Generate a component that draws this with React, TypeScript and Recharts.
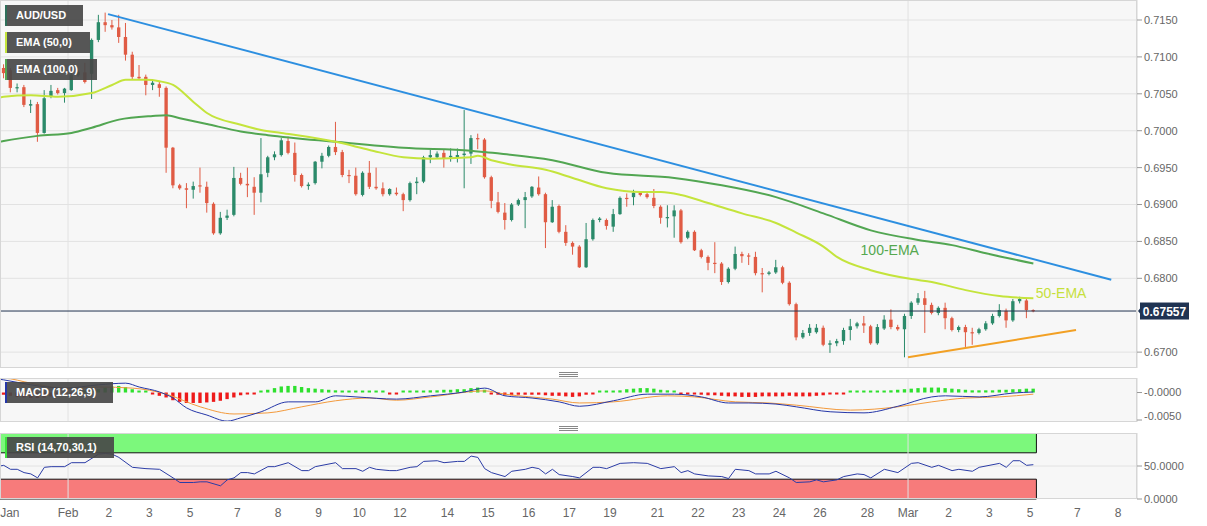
import React from 'react'
import {
  ComposedChart,
  Bar,
  Line,
  XAxis,
  YAxis,
  CartesianGrid,
  ReferenceLine,
  ReferenceArea,
  ReferenceDot,
  Cell,
} from 'recharts'

const FONT = '"Liberation Sans", Arial, Helvetica, sans-serif'
const W = 1207
const PLOT_W = 1137
const X_DOMAIN: [number, number] = [-0.55, 167.3]

// 4h candles, [open, high, low, close]
const candles: number[][] = [
  [0.7085, 0.709, 0.7071, 0.7078], [0.7082, 0.7085, 0.7052, 0.7058], [0.7058, 0.7064, 0.7052, 0.7059],
  [0.7059, 0.7062, 0.7032, 0.7035], [0.7034, 0.7042, 0.7024, 0.7036], [0.7036, 0.7039, 0.6985, 0.6997],
  [0.6997, 0.7055, 0.6996, 0.7044], [0.7047, 0.7062, 0.7044, 0.7054], [0.7055, 0.7058, 0.7049, 0.7051],
  [0.7051, 0.7058, 0.7038, 0.7057], [0.7055, 0.7078, 0.7054, 0.7076], [0.7075, 0.7082, 0.7073, 0.708],
  [0.7079, 0.7092, 0.7064, 0.7066], [0.7077, 0.7125, 0.7043, 0.7123], [0.7123, 0.7157, 0.712, 0.7147],
  [0.7147, 0.716, 0.7134, 0.7143], [0.7143, 0.715, 0.7137, 0.714], [0.714, 0.7157, 0.7119, 0.7127],
  [0.7127, 0.7146, 0.7095, 0.7103], [0.7103, 0.7107, 0.7069, 0.7073], [0.7073, 0.7089, 0.7069, 0.7071],
  [0.7073, 0.7076, 0.7048, 0.7062], [0.7062, 0.7069, 0.7055, 0.7065], [0.7063, 0.7066, 0.7046, 0.7058],
  [0.7058, 0.706, 0.6943, 0.6977], [0.6977, 0.6978, 0.6922, 0.6926], [0.6926, 0.6928, 0.692, 0.6922],
  [0.6922, 0.6929, 0.6895, 0.692], [0.692, 0.6931, 0.6908, 0.6925], [0.6926, 0.695, 0.6916, 0.6925],
  [0.6924, 0.6931, 0.6889, 0.6902], [0.6901, 0.6903, 0.6859, 0.6861], [0.6861, 0.689, 0.6859, 0.6882],
  [0.6882, 0.6893, 0.6879, 0.6885], [0.6886, 0.6951, 0.6884, 0.6936], [0.6936, 0.6943, 0.6926, 0.6928],
  [0.6928, 0.695, 0.691, 0.6926], [0.6924, 0.6937, 0.6886, 0.6916], [0.6916, 0.699, 0.6903, 0.6941],
  [0.6943, 0.6966, 0.6937, 0.6964], [0.6964, 0.6972, 0.696, 0.6968], [0.6967, 0.699, 0.6965, 0.6987],
  [0.6986, 0.6992, 0.6968, 0.697], [0.697, 0.6984, 0.6931, 0.694], [0.694, 0.6942, 0.6923, 0.6925],
  [0.6925, 0.693, 0.692, 0.6927], [0.6929, 0.6959, 0.6927, 0.6958], [0.6958, 0.697, 0.6949, 0.6966],
  [0.6966, 0.698, 0.6964, 0.6978], [0.6978, 0.7012, 0.6967, 0.6971], [0.6971, 0.6974, 0.6937, 0.694],
  [0.694, 0.6947, 0.6929, 0.6939], [0.6939, 0.695, 0.6912, 0.6914], [0.6913, 0.6945, 0.6911, 0.6943],
  [0.6943, 0.6959, 0.6921, 0.6924], [0.6924, 0.695, 0.692, 0.6922], [0.6922, 0.693, 0.6911, 0.6914],
  [0.6914, 0.6922, 0.6912, 0.6921], [0.6916, 0.6923, 0.6912, 0.6914], [0.6914, 0.6916, 0.6891, 0.6906],
  [0.6906, 0.6931, 0.6904, 0.6929], [0.6929, 0.6937, 0.6914, 0.6931], [0.6931, 0.6966, 0.6929, 0.6964],
  [0.6964, 0.6974, 0.6956, 0.6967], [0.6964, 0.6972, 0.6962, 0.6969], [0.697, 0.6975, 0.695, 0.6963],
  [0.6964, 0.6976, 0.6958, 0.6966], [0.6964, 0.6976, 0.6957, 0.6967], [0.6967, 0.7028, 0.6922, 0.6969],
  [0.6969, 0.6994, 0.6955, 0.699], [0.699, 0.6996, 0.6975, 0.6989], [0.6988, 0.699, 0.6935, 0.6937],
  [0.6937, 0.6939, 0.6895, 0.6905], [0.6903, 0.6917, 0.6888, 0.689], [0.6889, 0.6902, 0.6866, 0.6879],
  [0.6879, 0.6902, 0.6877, 0.69], [0.69, 0.6908, 0.6898, 0.6906], [0.6906, 0.6917, 0.6868, 0.691],
  [0.6911, 0.6925, 0.6909, 0.6924], [0.6923, 0.6938, 0.6912, 0.6914], [0.6914, 0.6916, 0.6841, 0.6876],
  [0.6876, 0.6906, 0.6875, 0.6897], [0.6898, 0.69, 0.6861, 0.6863], [0.6863, 0.6872, 0.6844, 0.6848],
  [0.6848, 0.685, 0.6832, 0.6843], [0.6843, 0.6845, 0.6814, 0.6815], [0.6815, 0.6875, 0.6814, 0.6853],
  [0.6853, 0.6881, 0.6851, 0.6879], [0.6879, 0.6883, 0.6876, 0.6881], [0.6879, 0.6881, 0.6866, 0.6871],
  [0.687, 0.6894, 0.6863, 0.6887], [0.6887, 0.6911, 0.6886, 0.6909], [0.6909, 0.6915, 0.6897, 0.6908],
  [0.691, 0.692, 0.6899, 0.6916], [0.6916, 0.6918, 0.6911, 0.6913], [0.6914, 0.6917, 0.6908, 0.691],
  [0.6909, 0.6921, 0.6895, 0.6898], [0.6897, 0.6899, 0.6874, 0.6882], [0.6882, 0.6899, 0.6869, 0.6883],
  [0.6884, 0.6899, 0.6855, 0.6892], [0.6892, 0.6894, 0.6847, 0.6849], [0.6855, 0.6865, 0.6853, 0.6863],
  [0.6863, 0.6865, 0.6837, 0.6838], [0.6838, 0.684, 0.6827, 0.6829], [0.6829, 0.6831, 0.6811, 0.6821],
  [0.6821, 0.6849, 0.6807, 0.682], [0.682, 0.6822, 0.6791, 0.6795], [0.6795, 0.6815, 0.6793, 0.6813],
  [0.6813, 0.6843, 0.6811, 0.6833], [0.6833, 0.6836, 0.6821, 0.683], [0.6831, 0.6834, 0.6818, 0.683],
  [0.6829, 0.6836, 0.6804, 0.6807], [0.6807, 0.6814, 0.6781, 0.6806], [0.6806, 0.681, 0.6804, 0.6808],
  [0.6808, 0.6825, 0.6806, 0.6815], [0.6815, 0.6817, 0.6792, 0.6794], [0.6794, 0.6796, 0.6763, 0.6765],
  [0.6765, 0.6767, 0.6716, 0.672], [0.672, 0.673, 0.6718, 0.6726], [0.6726, 0.6738, 0.6722, 0.6733],
  [0.6727, 0.6738, 0.6725, 0.6733], [0.6733, 0.6736, 0.6708, 0.671], [0.671, 0.6716, 0.6699, 0.6712],
  [0.6712, 0.6718, 0.6708, 0.6715], [0.6715, 0.6733, 0.671, 0.673], [0.673, 0.6745, 0.6716, 0.6735],
  [0.6735, 0.6741, 0.6732, 0.6739], [0.6739, 0.6749, 0.6726, 0.6736], [0.6735, 0.6737, 0.671, 0.6712],
  [0.6712, 0.6738, 0.671, 0.6734], [0.6732, 0.675, 0.673, 0.6744], [0.6744, 0.6758, 0.6731, 0.6734],
  [0.6734, 0.6737, 0.6729, 0.6731], [0.6731, 0.6752, 0.6693, 0.6749], [0.6749, 0.6769, 0.6745, 0.6767],
  [0.6767, 0.678, 0.6764, 0.6773], [0.6773, 0.6783, 0.6726, 0.6764], [0.6764, 0.6767, 0.6751, 0.6753],
  [0.6753, 0.6762, 0.675, 0.676], [0.676, 0.6767, 0.6731, 0.6746], [0.6746, 0.6748, 0.6728, 0.673],
  [0.673, 0.6736, 0.6727, 0.6734], [0.6734, 0.6737, 0.6707, 0.6727], [0.6727, 0.6733, 0.671, 0.6726],
  [0.6726, 0.6733, 0.6724, 0.6731], [0.6731, 0.6742, 0.6729, 0.6739], [0.6739, 0.6752, 0.6737, 0.6749],
  [0.6749, 0.6765, 0.6747, 0.6757], [0.6756, 0.6759, 0.6733, 0.6743], [0.6743, 0.6772, 0.6741, 0.6769],
  [0.6769, 0.6775, 0.6766, 0.6772], [0.677, 0.6772, 0.6746, 0.6757], [0.6757, 0.6758, 0.6754, 0.67557],
]

// [x position in candles, value]
const ema50Pts = [
  [-0.55, 0.7045], [0, 0.7046], [4, 0.7048], [8, 0.7046], [13, 0.7051], [16, 0.7062], [18, 0.7069],
  [21, 0.7069], [23, 0.7067], [25, 0.7062], [28, 0.7039], [30, 0.7024], [35, 0.7008], [38, 0.7001],
  [41, 0.6997], [49, 0.6985], [54, 0.6974], [59, 0.6964], [63, 0.6962], [69, 0.6964], [70, 0.6966],
  [72, 0.696], [75, 0.6954], [80, 0.6947], [84, 0.6936], [89, 0.6922], [94, 0.6917], [97, 0.6917],
  [100, 0.6913], [104, 0.6902], [109, 0.6888], [114, 0.6875], [117, 0.6862], [121, 0.6843],
  [123, 0.6829], [128, 0.6811], [134, 0.6799], [137, 0.6795], [142, 0.6784], [147, 0.6776],
  [152, 0.6773],
]
const ema100Pts = [
  [-0.55, 0.6985], [0, 0.6986], [5, 0.6993], [10, 0.6997], [13, 0.7004], [17, 0.7015], [22, 0.702],
  [24, 0.7021], [26, 0.7017], [30, 0.7009], [35, 0.6999], [39, 0.6994], [49, 0.6985], [59, 0.6977],
  [69, 0.6973], [71, 0.6971], [81, 0.696], [89, 0.6943], [99, 0.6936], [106, 0.6926], [114, 0.691],
  [121, 0.6888], [128, 0.6865], [135, 0.6852], [140, 0.6845], [145, 0.6834], [152, 0.682],
]

const lastPrice = 0.67557
const priceTicks = [0.67, 0.68, 0.685, 0.69, 0.695, 0.7, 0.705, 0.71, 0.715]
// trend lines: [x position in candles, price]
const resistanceLine = [[15.4, 0.7158], [163.5, 0.6798]]
const supportLine = [[133.5, 0.6693], [158.3, 0.673]]

const macdPts = [
  [-0.55, 0.0024], [0, 0.0023], [4, 0.0014], [9, 0.0008], [14, 0.0014], [18, 0.0017], [20, 0.001],
  [23, 0.0001], [25, -0.001], [27, -0.0028], [30, -0.0041], [33, -0.0052], [35, -0.0046],
  [38, -0.0035], [42, -0.0017], [46, -0.0017], [49, -0.0006], [52, -0.0008], [58, -0.0012],
  [63, -0.0006], [68, 0.0001], [71, 0.0008], [74, -0.0006], [78, -0.001], [82, -0.0017],
  [85, -0.0025], [90, -0.0015], [95, -0.0003], [99, -0.0003], [103, -0.0008], [107, -0.0019],
  [110, -0.0019], [114, -0.0021], [117, -0.0026], [122, -0.0035], [127, -0.0037], [132, -0.0025],
  [137, -0.0008], [139, -0.0006], [144, -0.0008], [149, -0.0001], [152, 0.0001],
]
const signalPts = [
  [-0.55, 0.0026], [0, 0.0026], [4, 0.0017], [9, 0.0008], [14, 0.001], [19, 0.0008], [24, -0.0003],
  [29, -0.0026], [34, -0.0039], [39, -0.0037], [44, -0.0026], [49, -0.0015], [54, -0.001],
  [58, -0.0014], [63, -0.0008], [71, 0.0003], [74, -0.0003], [81, -0.0012], [85, -0.0019],
  [90, -0.0017], [98, -0.0006], [102, -0.0008], [108, -0.0017], [113, -0.0019], [117, -0.0023],
  [125, -0.0032], [132, -0.0026], [137, -0.0017], [142, -0.001], [147, -0.0008], [152, -0.0003],
]
const histVals = [
  -0.0004, -0.0006, -0.0008, -0.0009, -0.001, -0.001, -0.0009,
  -0.0007, -0.0005, -0.0003, -0.0001, 0.0001, 0.0001,
  0.0002, 0.0006, 0.0009, 0.0011, 0.0012, 0.001, 0.0006, 0.0003, 0.0001,
  -0.0003, -0.0006, -0.0009, -0.0014, -0.0017, -0.0019, -0.0019, -0.0019, -0.0018, -0.0017, -0.0015,
  -0.0012, -0.0009, -0.0005, -0.0002, -0.0001,
  0.0002, 0.0005, 0.0008, 0.0011, 0.0012, 0.0012, 0.001, 0.0008, 0.0007, 0.0006, 0.0005, 0.0004,
  0.0003, 0.0002, 0.0002, 0.0001, 0.0001, 0,
  0, -0.0001, -0.0001, 0, 0,
  0.0001, 0.0003, 0.0004, 0.0004, 0.0005, 0.0005, 0.0006, 0.0006, 0.0008, 0.0009, 0.0005,
  -0.0002, -0.0004, -0.0005, -0.0005, -0.0004, -0.0004, -0.0004, -0.0004, -0.0005, -0.0006, -0.0006,
  -0.0007, -0.0008, -0.0007, -0.0004, -0.0001,
  0.0001, 0.0002, 0.0003, 0.0004, 0.0006, 0.0007, 0.0008, 0.0008, 0.0007, 0.0005, 0.0004, 0.0002,
  -0.0001, -0.0002, -0.0003, -0.0004, -0.0005, -0.0005, -0.0006, -0.0007, -0.0007, -0.0008, -0.0008,
  -0.0008, -0.0007, -0.0007, -0.0007, -0.0007, -0.0006, -0.0007, -0.0007, -0.0007, -0.0006, -0.0005,
  -0.0003, -0.0002, -0.0001, 0,
  0.0001, 0.0001, 0.0002, 0.0002, 0.0003, 0.0004, 0.0005, 0.0006, 0.0007, 0.0008, 0.0009, 0.0009,
  0.0009, 0.0008, 0.0007, 0.0006, 0.0005, 0.0004, 0.0004, 0.0004, 0.0004, 0.0005, 0.0005, 0.0006,
  0.0006, 0.0007, 0.0007,
]
const macdTicks = [0, -0.005]
const macdTickLabels = ['-0.0000', '-0.0050']

const rsiPts = [
  [-0.55, 50], [0, 51], [1, 45], [2, 45], [3, 40], [4, 38], [5, 32], [6, 48], [7, 49], [9, 49],
  [10, 55], [12, 55], [14, 68], [15, 69], [16, 68], [17, 63], [19, 48], [21, 46], [23, 45], [25, 32],
  [26, 25], [28, 25], [29, 26], [30, 26], [32, 20], [33, 29], [34, 32], [35, 40], [36, 40], [37, 38],
  [39, 49], [40, 49], [42, 55], [43, 49], [44, 43], [45, 43], [46, 49], [49, 55], [50, 46], [52, 46],
  [53, 42], [54, 48], [55, 45], [57, 43], [58, 43], [60, 48], [61, 49], [62, 57], [64, 58], [65, 55],
  [67, 57], [68, 57], [69, 65], [70, 63], [71, 46], [72, 40], [74, 34], [75, 42], [77, 45], [78, 48],
  [79, 46], [80, 38], [81, 45], [82, 37], [84, 34], [85, 32], [87, 48], [88, 48], [89, 46], [91, 54],
  [93, 55], [95, 54], [97, 46], [99, 49], [100, 40], [101, 43], [102, 38], [104, 35], [106, 34],
  [107, 31], [108, 45], [110, 43], [111, 38], [113, 38], [114, 42], [116, 32], [117, 25], [119, 26],
  [120, 29], [121, 26], [123, 29], [124, 34], [126, 38], [127, 37], [128, 32], [130, 45], [132, 40],
  [134, 54], [135, 55], [137, 48], [138, 51], [140, 43], [141, 45], [143, 42], [144, 48], [147, 54],
  [148, 48], [149, 58], [150, 58], [151, 51], [152, 52],
]
const rsiTicks = [0, 50]
const rsiTickLabels = ['0.0000', '50.0000']

const xTicks = [
  0.9, 9.5, 15.5, 21.5, 27.5, 34.5, 40.5, 46.5, 52.5, 58.5, 65.5, 71.5, 77.5, 83.5, 89.5, 96.5,
  102.5, 108.5, 114.5, 120.5, 127.5, 133.5, 139.5, 145.5, 151.5, 158.5, 164.5,
]
const xTickLabels = [
  'Jan', 'Feb', '2', '3', '5', '7', '8', '9', '10', '12', '14', '15', '16', '17', '19', '21',
  '22', '23', '24', '26', '28', 'Mar', '2', '3', '5', '7', '8',
]
const monthLines = [9.5, 133.5]

const GREEN = '#2b8a6a'
const RED = '#e05b44'
const EMA50_C = '#c4e43c'
const EMA100_C = '#52a652'

// merge sparse [x, value] points into rows keyed by x
function withPoints(rows: any[], key: string, pts: number[][]) {
  pts.forEach(([x, v]) => {
    let row = rows.find((r) => r.i === x)
    if (!row) {
      row = { i: x }
      rows.push(row)
    }
    row[key] = v
  })
  return rows.sort((a, b) => a.i - b.i)
}

const mainRows = withPoints(
  withPoints(candles.map(([open, high, low, close], i) => ({ i, open, high, low, close })), 'ema50', ema50Pts),
  'ema100',
  ema100Pts,
)
const macdRows = withPoints(
  withPoints(histVals.map((hist, i) => ({ i, hist })), 'macd', macdPts),
  'signal',
  signalPts,
)
const rsiRows = withPoints(candles.map((_, i) => ({ i })), 'rsi', rsiPts)

const Candle = (props: any) => {
  const { x, y, width, height, payload } = props
  if (!payload || payload.open == null) return null
  const { open, high, low, close } = payload
  const top = height < 0 ? y + height : y
  const h = Math.abs(height)
  const span = high - low || 1e-9
  const py = (v: number) => top + ((high - v) / span) * h
  const color = close >= open ? GREEN : RED
  const cx = x + width / 2
  const bTop = py(Math.max(open, close))
  const bBot = py(Math.min(open, close))
  return (
    <g>
      <line x1={cx} x2={cx} y1={top} y2={top + h} stroke={color} strokeWidth={1} />
      <rect x={x} y={bTop} width={width} height={Math.max(1.2, bBot - bTop)} fill={color} />
    </g>
  )
}

const PriceTag = (props: any) => {
  const vb = props.viewBox || {}
  const x = vb.x + vb.width
  const y = vb.y
  return (
    <g>
      <path d={`M${x + 1},${y} L${x + 5},${y - 5} L${x + 5},${y + 5} Z`} fill="#1f3352" />
      <rect x={x + 3} y={y - 8.5} width={49} height={17} fill="#1f3352" />
      <text x={x + 27.5} y={y + 4.5} textAnchor="middle" fill="#fff" fontSize={12} fontWeight="bold" fontFamily={FONT}>
        {lastPrice.toFixed(5)}
      </text>
    </g>
  )
}

const TextTag = ({ viewBox, text, color }: any) => (
  <text x={viewBox.x + viewBox.width / 2} y={viewBox.y + viewBox.height / 2 + 5} textAnchor="middle" fill={color} fontSize={14} fontFamily={FONT}>
    {text}
  </text>
)

const axisTick = { fontSize: 11, fill: '#666', fontFamily: FONT }

const LegendBox = ({ top, width, text, accent }: any) => (
  <div style={{
    position: 'absolute', left: 5, top, width, height: 21, background: 'rgba(72,72,72,0.92)',
    borderLeft: `2px solid ${accent}`, boxSizing: 'border-box', color: '#fff', fontFamily: FONT,
    fontSize: 11, fontWeight: 'bold', lineHeight: '21px', paddingLeft: 9,
  }}>{text}</div>
)

const Grip = ({ top }: any) => (
  <div style={{ position: 'absolute', left: 559, top, width: 19 }}>
    {[0, 1, 2].map((k) => (
      <div key={k} style={{ height: 1, background: '#888', marginBottom: 1 }} />
    ))}
  </div>
)

const Frame = ({ top, height }: any) => (
  <div style={{
    position: 'absolute', left: 0, top, width: PLOT_W, height, border: '1px solid #d6d6d6',
    boxSizing: 'border-box', pointerEvents: 'none',
  }} />
)

export default function App() {
  return (
    <div style={{ position: 'absolute', left: 0, top: 0, width: W, height: 526, background: '#fff', overflow: 'hidden' }}>
      {/* price panel */}
      <div style={{ position: 'absolute', left: 0, top: 0 }}>
        <ComposedChart width={W} height={368} data={mainRows} margin={{ top: 0, right: 0, bottom: 0, left: 0 }} style={{ fontFamily: FONT }}>
          <CartesianGrid fill="#f7f7f7" stroke="#e2e2e2" vertical={false} />
          <XAxis dataKey="i" type="number" domain={X_DOMAIN} allowDataOverflow hide />
          <YAxis
            orientation="right"
            width={70}
            domain={[0.66785, 0.71771]}
            allowDataOverflow
            ticks={priceTicks}
            tickFormatter={(v: number) => v.toFixed(4)}
            tick={axisTick}
            tickLine={{ stroke: '#999' }}
            tickSize={5}
            axisLine={{ stroke: '#d6d6d6' }}
          />
          {monthLines.map((m) => (
            <ReferenceLine key={m} x={m} stroke="#e2e2e2" />
          ))}
          <Bar dataKey={(d: any) => (d.open == null ? null : [d.low, d.high])} barSize={5} isAnimationActive={false} shape={(p: any) => <Candle {...p} />} />
          <Line dataKey="ema100" type="monotone" stroke={EMA100_C} strokeWidth={2} dot={false} activeDot={false} connectNulls isAnimationActive={false} />
          <Line dataKey="ema50" type="monotone" stroke={EMA50_C} strokeWidth={2} dot={false} activeDot={false} connectNulls isAnimationActive={false} />
          <ReferenceLine
            segment={[{ x: resistanceLine[0][0], y: resistanceLine[0][1] }, { x: resistanceLine[1][0], y: resistanceLine[1][1] }]}
            stroke="#2d8fe0"
            strokeWidth={2}
          />
          <ReferenceLine
            segment={[{ x: supportLine[0][0], y: supportLine[0][1] }, { x: supportLine[1][0], y: supportLine[1][1] }]}
            stroke="#f2a024"
            strokeWidth={2}
          />
          <ReferenceLine y={lastPrice} stroke="#22334f" strokeWidth={1} label={<PriceTag />} />
          <ReferenceDot x={130.8} y={0.6838} r={0} fill="none" stroke="none" label={<TextTag text="100-EMA" color="#55a84f" />} />
          <ReferenceDot x={156.1} y={0.678} r={0} fill="none" stroke="none" label={<TextTag text="50-EMA" color="#c6e03c" />} />
        </ComposedChart>
      </div>
      <Frame top={0} height={368} />
      <LegendBox top={5} width={78} text="AUD/USD" accent="#2f6f5a" />
      <LegendBox top={32} width={85} text="EMA (50,0)" accent={EMA50_C} />
      <LegendBox top={59} width={92} text="EMA (100,0)" accent={EMA100_C} />

      <Grip top={372} />

      {/* MACD panel */}
      <div style={{ position: 'absolute', left: 0, top: 378 }}>
        <ComposedChart width={W} height={44} data={macdRows} margin={{ top: 0, right: 0, bottom: 0, left: 0 }} style={{ fontFamily: FONT }}>
          <CartesianGrid fill="#f7f7f7" horizontal={false} vertical={false} />
          <XAxis dataKey="i" type="number" domain={X_DOMAIN} allowDataOverflow hide />
          <YAxis
            orientation="right"
            width={70}
            domain={[-0.00536, 0.00264]}
            allowDataOverflow
            ticks={macdTicks}
            tickFormatter={(v: number) => macdTickLabels[macdTicks.indexOf(v)]}
            tick={axisTick}
            tickLine={{ stroke: '#999' }}
            tickSize={5}
            axisLine={{ stroke: '#d6d6d6' }}
          />
          {monthLines.map((m) => (
            <ReferenceLine key={m} x={m} stroke="#e2e2e2" />
          ))}
          <Bar dataKey="hist" barSize={4} minPointSize={2} isAnimationActive={false}>
            {macdRows.map((r) => (
              <Cell key={r.i} fill={(r.hist ?? 0) >= 0 ? '#2ee02e' : '#ee1a1a'} />
            ))}
          </Bar>
          <Line dataKey="signal" type="monotone" stroke="#f39a3c" strokeWidth={1} dot={false} activeDot={false} connectNulls isAnimationActive={false} />
          <Line dataKey="macd" type="monotone" stroke="#2536a8" strokeWidth={1} dot={false} activeDot={false} connectNulls isAnimationActive={false} />
        </ComposedChart>
      </div>
      <Frame top={378} height={44} />
      <LegendBox top={382} width={108} text="MACD (12,26,9)" accent="#2536a8" />

      <Grip top={426} />

      {/* RSI panel */}
      <div style={{ position: 'absolute', left: 0, top: 433 }}>
        <ComposedChart width={W} height={93} data={rsiRows} margin={{ top: 0, right: 0, bottom: 0, left: 0 }} style={{ fontFamily: FONT }}>
          <CartesianGrid fill="#f7f7f7" horizontal={false} vertical={false} />
          <XAxis
            dataKey="i"
            type="number"
            domain={X_DOMAIN}
            allowDataOverflow
            ticks={xTicks}
            interval={0}
            tickFormatter={(v: number) => xTickLabels[xTicks.indexOf(v)]}
            tick={{ fontSize: 12, fill: '#666', fontFamily: FONT }}
            tickLine={false}
            tickSize={7}
            axisLine={false}
            height={27}
          />
          <YAxis
            orientation="right"
            width={70}
            domain={[0, 100]}
            ticks={rsiTicks}
            tickFormatter={(v: number) => rsiTickLabels[rsiTicks.indexOf(v)]}
            tick={axisTick}
            tickLine={{ stroke: '#999' }}
            tickSize={5}
            axisLine={{ stroke: '#d6d6d6' }}
          />
          {monthLines.map((m) => (
            <ReferenceLine key={m} x={m} stroke="#e2e2e2" />
          ))}
          <ReferenceLine y={50} stroke="#e2e2e2" />
          <ReferenceArea x1={X_DOMAIN[0]} x2={152.45} y1={70} y2={100} fill="#7cf87c" fillOpacity={1} stroke="#111" strokeWidth={1} />
          <ReferenceArea x1={X_DOMAIN[0]} x2={152.45} y1={0} y2={30} fill="#f77b7b" fillOpacity={1} stroke="#111" strokeWidth={1} />
          <Line dataKey="rsi" type="linear" stroke="#2b3ca6" strokeWidth={1} dot={false} activeDot={false} connectNulls isAnimationActive={false} />
        </ComposedChart>
      </div>
      <Frame top={433} height={66} />
      <LegendBox top={437} width={109} text="RSI (14,70,30,1)" accent="#3ce03c" />
    </div>
  )
}
